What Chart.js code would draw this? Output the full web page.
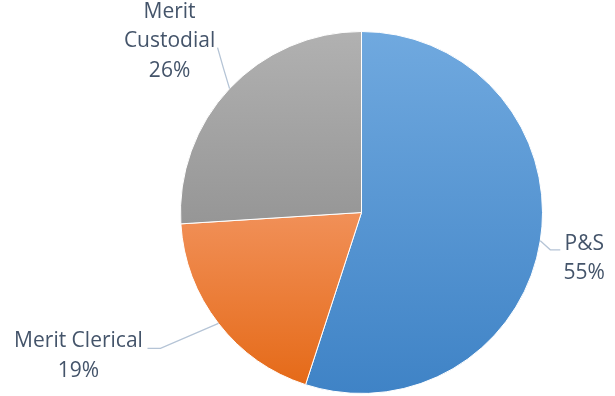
<!DOCTYPE html>
<html>
<head>
<meta charset="utf-8">
<script src="https://cdn.jsdelivr.net/npm/chart.js@4.4.0/dist/chart.umd.min.js"></script>
<style>
  html, body { margin: 0; padding: 0; background: #fff; }
  canvas { display: block; }
</style>
</head>
<body>
<canvas id="myChart" width="615" height="396"></canvas>
<script>
// data
var categories = ["P&S", "Merit Clerical", "Merit Custodial"];
var values = [55, 19, 26];
// how each category label wraps
var labelLines = [["P&S"], ["Merit Clerical"], ["Merit", "Custodial"]];

// gradient colours per slice, top -> bottom
var topColors = ["#70a9df", "#f19058", "#b1b1b1"];
var bottomColors = ["#3f83c6", "#e56a18", "#969696"];

// leader line layout, offsets from the slice edge point
var leaders = [
  { elbow: [10, 9], end: [20, 9], text: [24, 0] },
  { elbow: [-58, 25], end: [-71, 25], text: [-69, -1] },
  { elbow: [-6, -20], end: [-12, -41], text: [-48, -30] }
];

var FONT = "21px 'Open Sans'";
var TEXT_COLOR = "#44546a";
var LINE_COLOR = "#b5c4d6";
var LINE_H = 29.5;

var leaderPlugin = {
  id: "leaders",
  beforeDatasetsDraw(chart) {
    var ctx = chart.ctx;
    var meta = chart.getDatasetMeta(0);
    meta.data.forEach(function (arc, i) {
      var p = arc.getProps(["x", "y", "startAngle", "endAngle", "outerRadius"], true);
      // vertical extent of the slice
      var ys = [p.y, p.y + p.outerRadius * Math.sin(p.startAngle), p.y + p.outerRadius * Math.sin(p.endAngle)];
      [-Math.PI / 2, Math.PI / 2, Math.PI * 1.5].forEach(function (a) {
        if (a > p.startAngle && a < p.endAngle) ys.push(p.y + p.outerRadius * Math.sin(a));
      });
      var y0 = Math.min.apply(null, ys);
      var y1 = Math.max.apply(null, ys);
      var g = ctx.createLinearGradient(0, y0, 0, y1);
      g.addColorStop(0, topColors[i]);
      g.addColorStop(1, bottomColors[i]);
      arc.options.backgroundColor = g;
    });
  },
  afterDatasetsDraw(chart) {
    var ctx = chart.ctx;
    var meta = chart.getDatasetMeta(0);
    var total = values.reduce(function (a, b) { return a + b; }, 0);
    ctx.save();
    meta.data.forEach(function (arc, i) {
      var p = arc.getProps(["x", "y", "startAngle", "endAngle", "outerRadius"], true);
      var mid = (p.startAngle + p.endAngle) / 2;
      var sx = p.x + p.outerRadius * Math.cos(mid);
      var sy = p.y + p.outerRadius * Math.sin(mid);
      var L = leaders[i];
      var ex = sx + L.end[0], ey = sy + L.end[1];
      ctx.strokeStyle = LINE_COLOR;
      ctx.lineWidth = 1.3;
      ctx.beginPath();
      ctx.moveTo(sx, sy);
      ctx.lineTo(sx + L.elbow[0], sy + L.elbow[1]);
      ctx.lineTo(ex, ey);
      ctx.stroke();

      var lines = labelLines[i].concat([Math.round(values[i] / total * 100) + "%"]);
      ctx.fillStyle = TEXT_COLOR;
      ctx.font = FONT;
      ctx.textAlign = "center";
      ctx.textBaseline = "alphabetic";
      lines.forEach(function (t, k) {
        ctx.fillText(t, ex + L.text[0], ey + L.text[1] + k * LINE_H);
      });
    });
    ctx.restore();
  }
};

var ctx = document.getElementById("myChart").getContext("2d");
var myChart = new Chart(ctx, {
  type: "pie",
  plugins: [leaderPlugin],
  data: {
    labels: categories,
    datasets: [
      {
        data: values,
        backgroundColor: topColors,
        borderColor: "#ffffff",
        borderWidth: 1
      }
    ]
  },
  options: {
    responsive: false,
    animation: false,
    layout: {
      padding: { top: 31, bottom: 2, left: 180, right: 72 }
    },
    plugins: {
      legend: { display: false },
      tooltip: { enabled: false }
    }
  }
});
</script>
</body>
</html>
